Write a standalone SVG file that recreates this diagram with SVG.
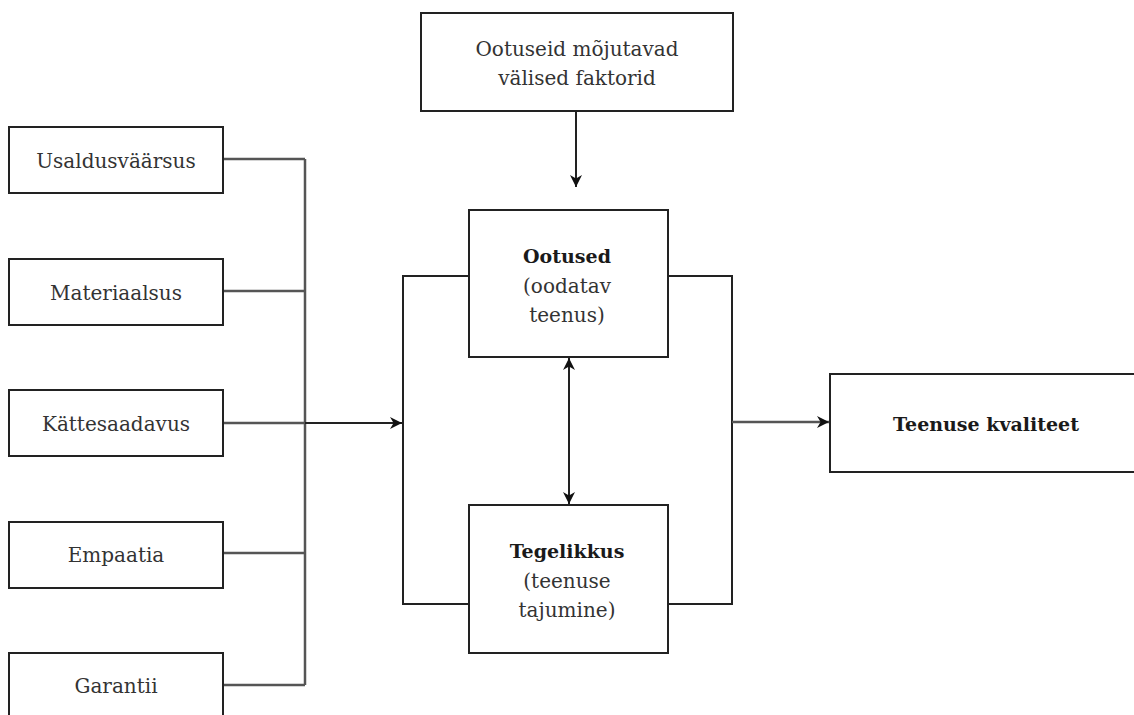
<svg xmlns="http://www.w3.org/2000/svg" width="1134" height="715" viewBox="0 0 1134 715">
<style>
.box{fill:#fff;stroke:#222;stroke-width:2}
text{font-family:'DejaVu Serif',serif;font-size:20px;fill:#333;text-anchor:middle}
.b{font-weight:bold;font-size:19px;fill:#1a1a1a}
.ln{fill:none;stroke:#555;stroke-width:2.5}
.dk{fill:none;stroke:#222;stroke-width:2}
</style>
<defs>
<marker id="ah" viewBox="0 0 10 10" refX="10" refY="5" markerWidth="12" markerHeight="12" markerUnits="userSpaceOnUse" orient="auto-start-reverse">
<path d="M0,0 L10,5 L0,10 L3,5 Z" fill="#111"/>
</marker>
</defs>
<rect width="1134" height="715" fill="#fff"/>
<g id="connectors">
<path class="ln" d="M223,159 H305 M223,291 H305 M223,423 H305 M223,553 H305 M223,685 H305 M305,159 V685"/>
<path class="dk" d="M305,423 H402" marker-end="url(#ah)"/>
<path class="dk" d="M469,276 H403 V604 H469"/>
<path class="dk" d="M668,276 H732 V604 H668"/>
<path class="ln" d="M732,422 H829" marker-end="url(#ah)"/>
<path class="dk" d="M576,111 V187" marker-end="url(#ah)"/>
<path class="dk" d="M569,358 V504" marker-start="url(#ah)" marker-end="url(#ah)"/>
</g>
<g id="usaldusvaarsus"><rect class="box" x="9" y="127" width="214" height="66"/><text x="116" y="168">Usaldusväärsus</text></g>
<g id="materiaalsus"><rect class="box" x="9" y="259" width="214" height="66"/><text x="116" y="300">Materiaalsus</text></g>
<g id="kattesaadavus"><rect class="box" x="9" y="390" width="214" height="66"/><text x="116" y="431">Kättesaadavus</text></g>
<g id="empaatia"><rect class="box" x="9" y="522" width="214" height="66"/><text x="116" y="562">Empaatia</text></g>
<g id="garantii"><rect class="box" x="9" y="653" width="214" height="80"/><text x="116" y="693">Garantii</text></g>
<g id="valised-faktorid"><rect class="box" x="421" y="13" width="312" height="98"/><text x="577" y="56">Ootuseid mõjutavad</text><text x="577" y="85">välised faktorid</text></g>
<g id="ootused"><rect class="box" x="469" y="210" width="199" height="147"/><text class="b" x="567" y="263">Ootused</text><text x="567" y="293">(oodatav</text><text x="567" y="322">teenus)</text></g>
<g id="tegelikkus"><rect class="box" x="469" y="505" width="199" height="148"/><text class="b" x="567" y="558">Tegelikkus</text><text x="567" y="588">(teenuse</text><text x="567" y="617">tajumine)</text></g>
<g id="teenuse-kvaliteet"><rect class="box" x="830" y="374" width="320" height="98"/><text class="b" x="986" y="431">Teenuse kvaliteet</text></g>
</svg>
